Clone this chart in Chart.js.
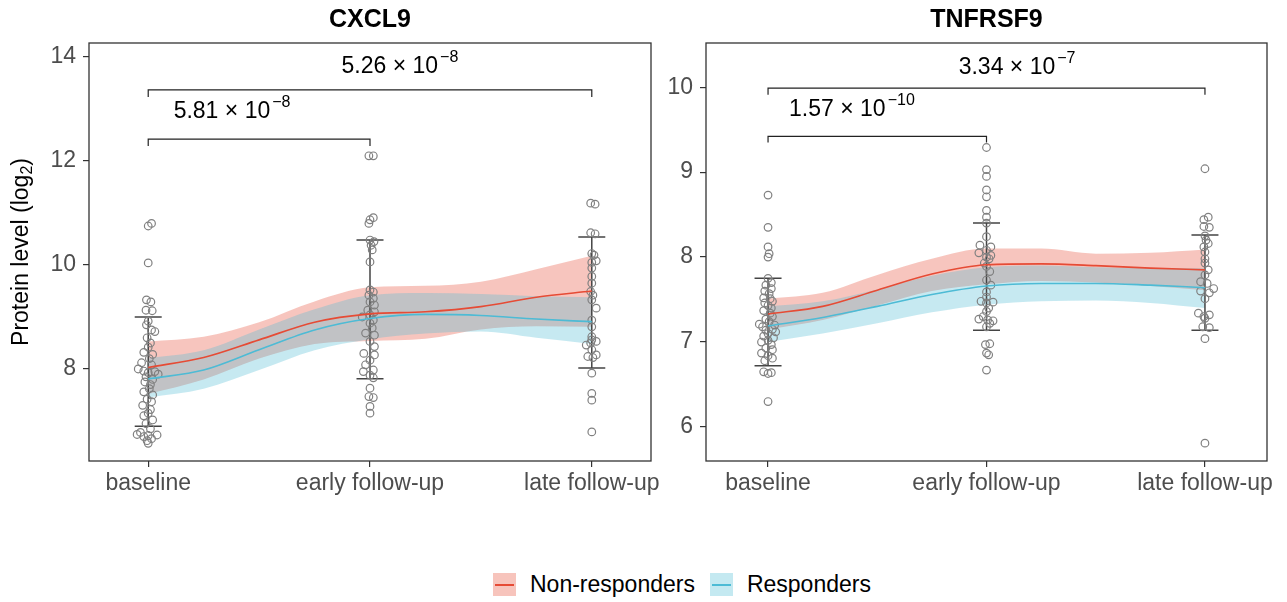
<!DOCTYPE html>
<html>
<head>
<meta charset="utf-8">
<title>CXCL9 / TNFRSF9</title>
<script src="https://cdn.jsdelivr.net/npm/chart.js@4.4.1/dist/chart.umd.min.js"></script>
<style>
  body { margin: 0; background: #fff; }
  #wrap { position: relative; width: 1287px; height: 602px; font-family: 'Liberation Sans', Arial, sans-serif; }
  canvas { position: absolute; top: 0; }
  #c1 { left: 0; }
  #c2 { left: 655px; }
  #legend { position: absolute; left: 493px; top: 571px; display: flex; align-items: center; font-size: 23px; color: #000; }
  .key { width: 23px; height: 23px; position: relative; margin-right: 14px; }
  .key i { position: absolute; left: 2px; right: 2px; top: 11px; height: 2px; }
  .gap { width: 15px; }
</style>
</head>
<body>
<div id="wrap">
  <canvas id="c1" width="700" height="530"></canvas>
  <canvas id="c2" width="632" height="530"></canvas>
  <div id="legend">
    <span class="key" style="background:rgba(230,75,53,0.33)"><i style="background:#E64B35"></i></span>
    <span>Non-responders</span>
    <span class="gap"></span>
    <span class="key" style="background:rgba(77,187,213,0.33)"><i style="background:#4DBBD5"></i></span>
    <span>Responders</span>
  </div>
</div>
<script>
// categories and smooth-curve sample positions
const categories = ['baseline', 'early follow-up', 'late follow-up'];
const smoothX = [1, 1.25, 1.5, 1.75, 2, 2.25, 2.5, 2.75, 3];

// ---- CXCL9 ----
const cxcl9Ticks = [8, 10, 12, 14];
const cxcl9NonResp   = [8.03, 8.22, 8.56, 8.90, 9.06, 9.10, 9.20, 9.38, 9.50];
const cxcl9NonRespHi = [8.53, 8.62, 8.90, 9.30, 9.57, 9.60, 9.68, 9.92, 10.18];
const cxcl9NonRespLo = [7.52, 7.80, 8.20, 8.48, 8.54, 8.58, 8.76, 8.82, 8.81];
const cxcl9Resp   = [7.81, 7.98, 8.37, 8.75, 8.97, 9.05, 9.03, 8.96, 8.91];
const cxcl9RespHi = [8.21, 8.36, 8.76, 9.15, 9.42, 9.46, 9.44, 9.40, 9.38];
const cxcl9RespLo = [7.45, 7.62, 7.98, 8.36, 8.57, 8.68, 8.72, 8.60, 8.48];
const cxcl9ErrLo = [6.90, 7.81, 8.02];
const cxcl9ErrHi = [9.00, 10.48, 10.54];
const cxcl9Base = [10.8, 10.75, 10.04, 9.33, 9.29, 9.13, 9.12, 8.92, 8.85, 8.75, 8.72, 8.6, 8.5, 8.42, 8.32, 8.28, 8.2, 8.12, 8.08, 8.0, 7.96, 7.95, 7.93, 7.9, 7.85, 7.8, 7.75, 7.7, 7.62, 7.56, 7.5, 7.42, 7.37, 7.3, 7.22, 7.15, 7.1, 7.02, 6.95, 6.85, 6.78, 6.74, 6.73, 6.72, 6.7, 6.66, 6.62, 6.57];
const cxcl9BaseJit = [0.015, 0, 0, -0.008, 0.012, -0.01, 0.018, 0, -0.008, 0.015, 0.03, -0.005, 0.01, 0, -0.02, 0.02, 0.005, -0.03, 0.015, -0.045, -0.02, 0.03, 0, 0.045, -0.01, 0.02, -0.015, 0.01, 0.005, -0.02, 0.02, -0.005, 0.015, -0.025, 0.01, 0, -0.02, 0.02, -0.01, 0.01, -0.035, -0.05, 0.04, 0, -0.02, 0.015, -0.005, 0];
const cxcl9Early = [12.1, 12.1, 10.91, 10.87, 10.8, 10.48, 10.45, 10.38, 10.29, 10.06, 9.52, 9.48, 9.42, 9.36, 9.29, 9.23, 9.13, 9.1, 9.04, 9.0, 8.94, 8.88, 8.79, 8.69, 8.65, 8.53, 8.43, 8.3, 8.27, 8.17, 8.08, 7.98, 7.95, 7.88, 7.83, 7.63, 7.47, 7.45, 7.28, 7.15];
const cxcl9EarlyJit = [-0.005, 0.015, 0.015, 0, -0.005, 0, 0.018, 0.005, 0.01, 0, 0, 0.015, -0.005, 0.015, 0, 0.02, -0.01, 0.02, 0, -0.035, 0.015, 0, 0.01, -0.02, 0.02, 0, 0.02, -0.028, 0.02, 0, -0.02, 0.015, -0.03, 0, 0.015, 0, -0.005, 0.015, 0, 0];
const cxcl9Late = [11.19, 11.17, 10.62, 10.6, 10.22, 10.19, 10.08, 10.05, 9.94, 9.78, 9.65, 9.49, 9.42, 9.33, 9.17, 8.94, 8.81, 8.62, 8.56, 8.53, 8.5, 8.46, 8.37, 8.27, 8.24, 8.22, 7.92, 7.53, 7.4, 6.79];
const cxcl9LateJit = [-0.005, 0.015, -0.005, 0.015, 0, 0.01, 0.02, 0, 0, 0, 0, -0.005, 0.005, 0, 0.02, 0, 0, 0, 0, 0.02, -0.005, -0.025, 0, 0.02, -0.018, 0.005, 0, 0, 0, 0];
const cxcl9Brackets = [[1, 3, 13.37, 13.23], [1, 2, 12.42, 12.29]];
const cxcl9PMain = ['5.26 \u00d7 10', '5.81 \u00d7 10'];
const cxcl9PExp = ['\u22128', '\u22128'];
const cxcl9PX = [2.135, 1.378];
const cxcl9PY = [13.85, 12.98];

// ---- TNFRSF9 ----
const tnfTicks = [6, 7, 8, 9, 10];
const tnfNonResp   = [7.33, 7.42, 7.61, 7.80, 7.91, 7.92, 7.90, 7.87, 7.85];
const tnfNonRespHi = [7.51, 7.58, 7.79, 7.98, 8.10, 8.10, 8.04, 8.05, 8.09];
const tnfNonRespLo = [7.15, 7.26, 7.43, 7.60, 7.68, 7.72, 7.70, 7.66, 7.61];
const tnfResp   = [7.19, 7.29, 7.42, 7.56, 7.66, 7.69, 7.69, 7.67, 7.64];
const tnfRespHi = [7.42, 7.48, 7.62, 7.78, 7.88, 7.90, 7.88, 7.87, 7.87];
const tnfRespLo = [7.00, 7.10, 7.22, 7.35, 7.44, 7.48, 7.49, 7.46, 7.40];
const tnfErrLo = [6.72, 7.14, 7.14];
const tnfErrHi = [7.75, 8.40, 8.26];
const tnfBase = [8.73, 8.35, 8.12, 8.04, 8.0, 7.75, 7.7, 7.67, 7.63, 7.6, 7.57, 7.52, 7.51, 7.48, 7.46, 7.43, 7.4, 7.37, 7.34, 7.3, 7.27, 7.24, 7.21, 7.2, 7.18, 7.15, 7.14, 7.12, 7.1, 7.07, 7.05, 7.02, 7.0, 6.97, 6.93, 6.91, 6.87, 6.84, 6.81, 6.78, 6.65, 6.63, 6.64, 6.3];
const tnfBaseJit = [0, 0, 0, 0.005, 0, 0, 0.015, -0.01, 0.015, -0.015, 0.005, -0.02, 0.01, 0.02, -0.015, 0, 0.015, -0.02, 0.01, 0.02, -0.01, 0.005, -0.04, 0.03, -0.025, 0.02, -0.01, 0.035, 0, -0.02, 0.025, 0, -0.03, 0.015, -0.01, 0.02, -0.03, 0, 0.02, -0.015, -0.02, 0, 0.015, 0];
const tnfEarly = [9.29, 9.03, 8.95, 8.79, 8.71, 8.55, 8.47, 8.4, 8.24, 8.14, 8.12, 8.08, 8.05, 8.02, 8.0, 7.98, 7.93, 7.89, 7.83, 7.73, 7.67, 7.59, 7.53, 7.48, 7.47, 7.46, 7.4, 7.36, 7.3, 7.27, 7.26, 7.25, 7.22, 7.18, 6.98, 6.97, 6.87, 6.85, 6.67];
const tnfEarlyJit = [0, 0, 0, 0, 0, 0, 0, 0, 0, -0.03, 0.02, 0, -0.035, 0.02, 0, 0.012, -0.01, 0, 0.015, 0, 0.02, 0, 0, -0.025, 0.03, 0, 0.01, 0, -0.015, -0.035, 0.005, 0.03, 0.015, 0, 0.015, -0.005, 0, 0.01, 0];
const tnfLate = [9.04, 8.47, 8.44, 8.36, 8.35, 8.25, 8.2, 8.16, 8.12, 8.06, 7.98, 7.93, 7.85, 7.79, 7.71, 7.69, 7.63, 7.6, 7.58, 7.51, 7.34, 7.32, 7.3, 7.28, 7.18, 7.17, 7.04, 5.81];
const tnfLateJit = [0, 0.015, -0.005, -0.005, 0.02, 0, 0.005, 0.015, -0.005, 0, 0, 0, 0.015, 0, -0.02, 0.01, 0.04, -0.02, 0.02, 0, -0.03, 0.02, -0.005, 0, -0.01, 0.02, 0, 0];
const tnfBrackets = [[1, 3, 9.99, 9.91], [1, 2, 9.42, 9.35]];
const tnfPMain = ['3.34 \u00d7 10', '1.57 \u00d7 10'];
const tnfPExp = ['\u22127', '\u221210'];
const tnfPX = [2.14, 1.384];
const tnfPY = [10.25, 9.75];

const FONT = "'Liberation Sans', Arial, sans-serif";
const RED = '#E64B35', BLUE = '#4DBBD5';
const RED_FILL = 'rgba(230,75,53,0.32)', BLUE_FILL = 'rgba(77,187,213,0.32)';

const xy = (xs, ys) => ys.map((v, i) => ({ x: xs[i], y: v }));
function column(cat, vals, jit) {
  return vals.map((v, i) => ({ x: cat + (jit[i] || 0), y: v }));
}

// draws error bars (before the points), box, title, brackets, p-values, y label
const panelPlugin = {
  id: 'panel',
  beforeDatasetDraw(chart, args, o) {
    if (chart.data.datasets[args.index].label !== 'points') return;
    const { ctx, scales: { x, y } } = chart;
    ctx.save();
    ctx.strokeStyle = '#444';
    ctx.lineWidth = 1.5;
    o.errLo.forEach((lo, i) => {
      const px = x.getPixelForValue(i + 1);
      const y1 = y.getPixelForValue(lo), y2 = y.getPixelForValue(o.errHi[i]);
      ctx.beginPath();
      ctx.moveTo(px, y1); ctx.lineTo(px, y2);
      ctx.moveTo(px - 13.5, y1); ctx.lineTo(px + 13.5, y1);
      ctx.moveTo(px - 13.5, y2); ctx.lineTo(px + 13.5, y2);
      ctx.stroke();
    });
    ctx.restore();
  },
  afterDraw(chart, args, o) {
    const { ctx, chartArea: a, scales: { x, y } } = chart;
    ctx.save();
    // panel border
    ctx.strokeStyle = '#333';
    ctx.lineWidth = 1.3;
    ctx.strokeRect(a.left, a.top, a.right - a.left, a.bottom - a.top);
    // title
    ctx.fillStyle = '#000';
    ctx.font = 'bold 25px ' + FONT;
    ctx.textAlign = 'center';
    ctx.textBaseline = 'middle';
    ctx.fillText(o.title, (a.left + a.right) / 2, 20);
    // brackets
    ctx.strokeStyle = '#222';
    ctx.lineWidth = 1.2;
    o.brackets.forEach(b => {
      const x1 = x.getPixelForValue(b[0]), x2 = x.getPixelForValue(b[1]);
      const yb = y.getPixelForValue(b[2]), yt = y.getPixelForValue(b[3]);
      ctx.beginPath();
      ctx.moveTo(x1, yt); ctx.lineTo(x1, yb); ctx.lineTo(x2, yb); ctx.lineTo(x2, yt);
      ctx.stroke();
    });
    // p-values
    ctx.textAlign = 'left';
    ctx.textBaseline = 'alphabetic';
    o.pMain.forEach((m, i) => {
      ctx.font = '23px ' + FONT;
      const w1 = ctx.measureText(m).width;
      ctx.font = '16px ' + FONT;
      const w2 = ctx.measureText(o.pExp[i]).width;
      const cx = x.getPixelForValue(o.pX[i]);
      const base = y.getPixelForValue(o.pY[i]) + 8;
      const start = cx - (w1 + w2 + 2) / 2;
      ctx.font = '23px ' + FONT;
      ctx.fillText(m, start, base);
      ctx.font = '16px ' + FONT;
      ctx.fillText(o.pExp[i], start + w1 + 2, base - 11);
    });
    // y axis label
    if (o.yLabel) {
      const cy = (a.top + a.bottom) / 2;
      ctx.translate(22, cy);
      ctx.rotate(-Math.PI / 2);
      ctx.textBaseline = 'middle';
      ctx.font = '23px ' + FONT;
      const p1 = o.yLabel[0], p3 = o.yLabel[2];
      const w1 = ctx.measureText(p1).width, w3 = ctx.measureText(p3).width;
      ctx.font = '16px ' + FONT;
      const w2 = ctx.measureText(o.yLabel[1]).width;
      let sx = -(w1 + w2 + w3) / 2;
      ctx.font = '23px ' + FONT;
      ctx.fillText(p1, sx, 0);
      ctx.font = '16px ' + FONT;
      ctx.fillText(o.yLabel[1], sx + w1, 6);
      ctx.font = '23px ' + FONT;
      ctx.fillText(p3, sx + w1 + w2, 0);
    }
    ctx.restore();
  }
};

function makePanel(id, p) {
  const ribbon = (vals, fill, color, order) => ({
    data: xy(smoothX, vals), fill: fill ? '+1' : false, backgroundColor: color,
    borderWidth: 0, borderColor: 'rgba(0,0,0,0)', pointRadius: 0,
    cubicInterpolationMode: 'monotone', order: order
  });
  const curve = (vals, color, order) => ({
    data: xy(smoothX, vals), fill: false, borderColor: color, borderWidth: 1.6,
    pointRadius: 0, cubicInterpolationMode: 'monotone', order: order
  });
  const pts = [].concat(column(1, p.base, p.baseJit), column(2, p.early, p.earlyJit), column(3, p.late, p.lateJit));
  return new Chart(document.getElementById(id), {
    type: 'line',
    data: {
      datasets: [
        ribbon(p.nrHi, true, RED_FILL, 4),
        ribbon(p.nrLo, false, RED_FILL, 4),
        ribbon(p.rHi, true, BLUE_FILL, 3),
        ribbon(p.rLo, false, BLUE_FILL, 3),
        { label: 'points', data: pts, showLine: false, pointRadius: 3.8, pointBorderWidth: 1.2,
          pointBorderColor: '#808080', pointBackgroundColor: 'rgba(0,0,0,0)', order: 2 },
        curve(p.nr, RED, 1),
        curve(p.r, BLUE, 0)
      ]
    },
    options: {
      responsive: false,
      devicePixelRatio: 1,
      animation: false,
      events: [],
      layout: { padding: { left: 0, right: p.padRight, top: 43, bottom: 19 } },
      plugins: {
        legend: { display: false },
        tooltip: { enabled: false },
        panel: {
          title: p.title, errLo: p.errLo, errHi: p.errHi, brackets: p.brackets,
          pMain: p.pMain, pExp: p.pExp, pX: p.pX, pY: p.pY, yLabel: p.yLabel
        }
      },
      scales: {
        x: {
          type: 'linear', min: p.xMin, max: p.xMax,
          afterBuildTicks: s => { s.ticks = [1, 2, 3].map(v => ({ value: v })); },
          afterFit: s => { s.height = 50; },
          grid: { drawOnChartArea: false, drawTicks: true, tickLength: 6, color: '#333', lineWidth: 1.2 },
          border: { display: false },
          ticks: { color: '#4D4D4D', font: { family: FONT, size: 23 }, padding: 3, maxRotation: 0,
                   callback: v => categories[v - 1] }
        },
        y: {
          min: p.yMin, max: p.yMax,
          afterBuildTicks: s => { s.ticks = p.ticks.map(v => ({ value: v })); },
          afterFit: s => { s.width = p.yWidth; },
          grid: { drawOnChartArea: false, drawTicks: true, tickLength: 6, color: '#333', lineWidth: 1.2 },
          border: { display: false },
          ticks: { color: '#4D4D4D', font: { family: FONT, size: 23 }, padding: 7 }
        }
      }
    },
    plugins: [panelPlugin]
  });
}

makePanel('c1', {
  title: 'CXCL9', yLabel: ['Protein level (log', '2', ')'],
  nr: cxcl9NonResp, nrHi: cxcl9NonRespHi, nrLo: cxcl9NonRespLo,
  r: cxcl9Resp, rHi: cxcl9RespHi, rLo: cxcl9RespLo,
  errLo: cxcl9ErrLo, errHi: cxcl9ErrHi,
  base: cxcl9Base, baseJit: cxcl9BaseJit, early: cxcl9Early, earlyJit: cxcl9EarlyJit, late: cxcl9Late, lateJit: cxcl9LateJit,
  brackets: cxcl9Brackets, pMain: cxcl9PMain, pExp: cxcl9PExp, pX: cxcl9PX, pY: cxcl9PY,
  ticks: cxcl9Ticks, yMin: 6.23, yMax: 14.27, xMin: 0.733, xMax: 3.267,
  yWidth: 89, padRight: 49
});

makePanel('c2', {
  title: 'TNFRSF9', yLabel: null,
  nr: tnfNonResp, nrHi: tnfNonRespHi, nrLo: tnfNonRespLo,
  r: tnfResp, rHi: tnfRespHi, rLo: tnfRespLo,
  errLo: tnfErrLo, errHi: tnfErrHi,
  base: tnfBase, baseJit: tnfBaseJit, early: tnfEarly, earlyJit: tnfEarlyJit, late: tnfLate, lateJit: tnfLateJit,
  brackets: tnfBrackets, pMain: tnfPMain, pExp: tnfPExp, pX: tnfPX, pY: tnfPY,
  ticks: tnfTicks, yMin: 5.6, yMax: 10.52, xMin: 0.716, xMax: 3.284,
  yWidth: 51, padRight: 20
});
</script>
</body>
</html>
